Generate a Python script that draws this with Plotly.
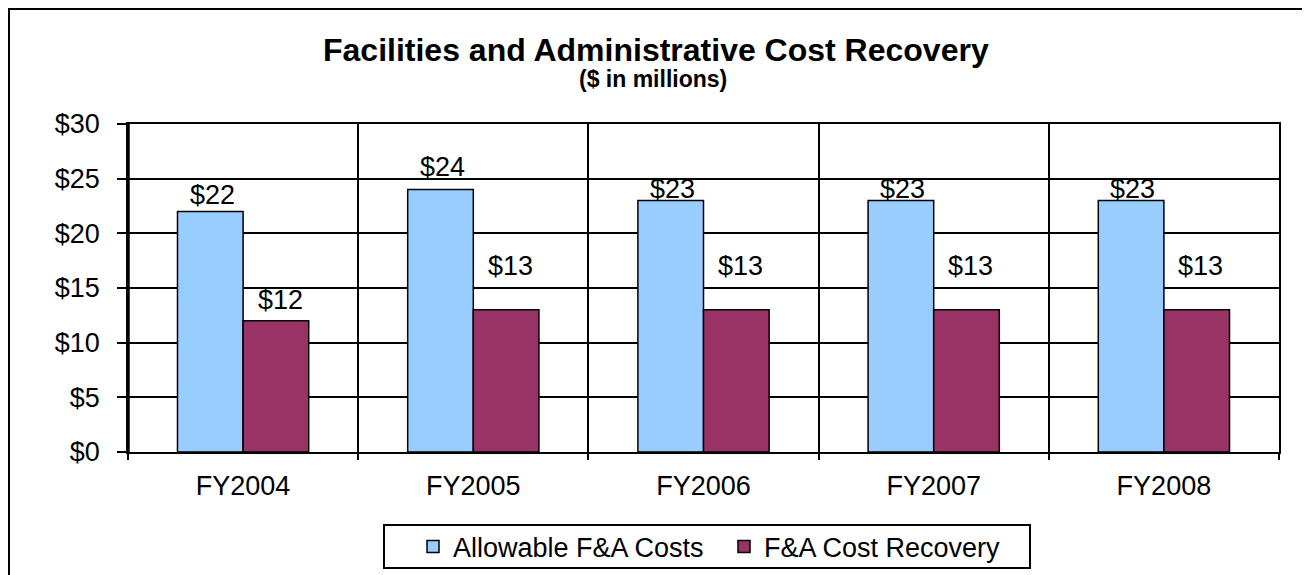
import plotly.graph_objects as go

categories = ["FY2004", "FY2005", "FY2006", "FY2007", "FY2008"]
allowable = [22, 24, 23, 23, 23]
recovery = [12, 13, 13, 13, 13]
y_ticks = [0, 5, 10, 15, 20, 25, 30]
y_tick_labels = ["$0", "$5", "$10", "$15", "$20", "$25", "$30"]

# label pixel offsets above bar top (style only)
allow_shift = [16, 23, 12, 12, 12]
recov_shift = [21, 44, 44, 44, 44]

FONT = "Liberation Sans, Arial, sans-serif"
BLUE = "#99CCFF"
MAROON = "#993366"

# page has an 8px body margin; figure sized to fit the window
W, H = 1302, 567
L, T, R, B = 120, 116, 31, 123
PW, PH = W - L - R, H - T - B


def px_x(x):
    return (x - L) / PW


def px_y(y):
    return (T + PH - y) / PH


fig = go.Figure()
fig.add_trace(go.Bar(name="Allowable F&A Costs", x=categories, y=allowable,
                     marker=dict(color=BLUE, line=dict(color="black", width=1.5))))
fig.add_trace(go.Bar(name="F&A Cost Recovery", x=categories, y=recovery,
                     marker=dict(color=MAROON, line=dict(color="black", width=1.5))))

annotations = []
for c, v, s in zip(categories, allowable, allow_shift):
    annotations.append(dict(x=c, y=v, xref="x", yref="y", text=f"${v}", showarrow=False,
                            xshift=-31, yshift=s, yanchor="middle",
                            font=dict(family=FONT, size=27, color="black")))
for c, v, s in zip(categories, recovery, recov_shift):
    annotations.append(dict(x=c, y=v, xref="x", yref="y", text=f"${v}", showarrow=False,
                            xshift=37, yshift=s, yanchor="middle",
                            font=dict(family=FONT, size=27, color="black")))

annotations.append(dict(text="<b>Facilities and Administrative Cost Recovery</b>",
                        xref="paper", yref="paper", x=px_x(648), y=px_y(42),
                        yanchor="middle", showarrow=False,
                        font=dict(family=FONT, size=32, color="black")))
annotations.append(dict(text="<b>($ in millions)</b>",
                        xref="paper", yref="paper", x=px_x(645), y=px_y(71),
                        yanchor="middle", showarrow=False,
                        font=dict(family=FONT, size=23, color="black")))

fig.update_layout(
    width=W, height=H,
    margin=dict(l=L, r=R, t=T, b=B),
    paper_bgcolor="white", plot_bgcolor="white",
    barmode="group", bargap=0.43, bargroupgap=0,
    font=dict(family=FONT, size=27, color="black"),
    annotations=annotations,
    showlegend=True,
    legend=dict(orientation="h", xref="container", yref="container",
                x=405 / W, xanchor="left", y=1 - 539 / H, yanchor="middle",
                borderwidth=0, bgcolor="rgba(0,0,0,0)",
                font=dict(family=FONT, size=27, color="black"),
                entrywidth=266, itemwidth=30, traceorder="normal"),
    xaxis=dict(type="category", tickson="boundaries", showgrid=True, gridcolor="black",
               gridwidth=2, showline=True, linecolor="black", linewidth=2, mirror=True,
               ticks="outside", ticklen=6, tickcolor="black", tickwidth=2,
               ticklabelstandoff=9,
               tickfont=dict(family=FONT, size=27), range=[-0.5, 4.5]),
    yaxis=dict(range=[0, 30], tickvals=y_ticks, ticktext=y_tick_labels, showgrid=True,
               gridcolor="black", gridwidth=1.5, showline=True, linecolor="black",
               linewidth=1.5, mirror=True, ticks="outside", ticklen=9, tickcolor="black",
               tickwidth=1.5, zeroline=False, ticklabelstandoff=12,
               tickfont=dict(family=FONT, size=27)),
    shapes=[
        # outer chart frame
        dict(type="rect", xref="paper", yref="paper", x0=px_x(1), x1=1.05,
             y0=-0.45, y1=px_y(1), line=dict(color="black", width=2),
             fillcolor="rgba(0,0,0,0)", layer="below"),
        # heavy left axis
        dict(type="line", xref="paper", yref="paper", x0=0, x1=0, y0=0, y1=1,
             line=dict(color="black", width=3.5)),
        # legend box
        dict(type="rect", xref="paper", yref="paper", x0=px_x(376), x1=px_x(1022),
             y0=px_y(560), y1=px_y(517), line=dict(color="black", width=2),
             fillcolor="white", layer="below"),
    ],
)

fig.write_html("out.html")
